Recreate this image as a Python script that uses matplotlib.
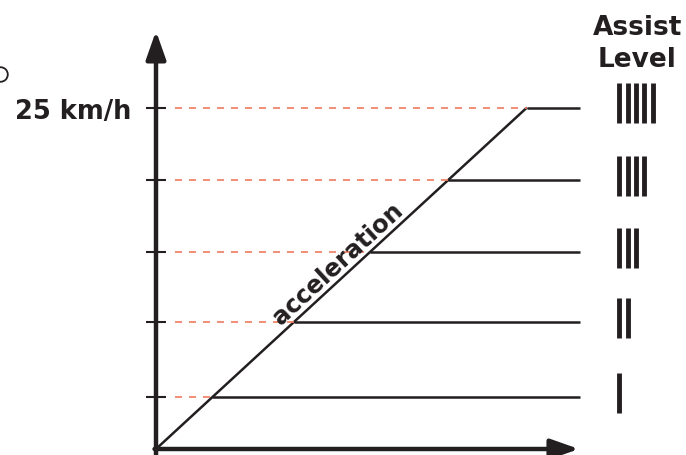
import numpy as np
import matplotlib
matplotlib.use("Agg")
import matplotlib.pyplot as plt

# ---- data ----
assist_levels = [1, 2, 3, 4, 5]
level_speeds = [3.8, 9.3, 14.4, 19.7, 25.0]   # km/h where each assist level tops out
tick_labels = ["", "", "", "", "25 km/h"]
accel_label = "acceleration"
legend_title = "Assist\nLevel"

INK = "#231f20"
RED = "#f07b5c"
FONT = ["DejaVu Sans"]

fig = plt.figure(figsize=(6.86, 4.56), dpi=100)
ax = fig.add_axes([0, 0, 1, 1])
ax.set_xlim(-10.512, 35.714)
ax.set_ylim(-0.439, 32.943)

for s in ["top", "right", "bottom", "left"]:
    ax.spines[s].set_visible(False)
ax.spines["left"].set_position(("data", 0))
ax.set_xticks([])
ax.set_yticks(level_speeds)
ax.set_yticklabels(tick_labels, fontsize=18.5, fontweight="bold", color=INK, family=FONT)
ax.tick_params(axis="y", direction="inout", length=15, width=1.5, color=INK, pad=10.5)
ax.patch.set_alpha(0)

t_end = 28.57
x_tip = 28.5
y_tip = 30.6

# axes arrows
arrow_kw = dict(arrowstyle="-|>,head_length=1.7,head_width=0.6", color=INK, lw=3.2,
                shrinkA=0, shrinkB=0, mutation_scale=10)
ax.annotate("", xy=(0, y_tip), xytext=(0, -0.6), arrowprops=arrow_kw)
ax.annotate("", xy=(x_tip, 0), xytext=(-0.1, 0), arrowprops=arrow_kw)

top = max(level_speeds)
# acceleration line
ax.plot([0, top], [0, top], color=INK, lw=1.8, solid_capstyle="butt")
# level lines + dashed guides
for v in level_speeds:
    ax.plot([v, t_end], [v, v], color=INK, lw=1.8, solid_capstyle="butt")
    ax.plot([1.28, v], [v, v], color=RED, lw=1.2, linestyle=(0, (4.2, 4.2)))

# assist level bars
bar_x0 = 31.23
bar_dx = 0.56
bar_half = 1.46
for n, v in zip(assist_levels, level_speeds):
    xs = bar_x0 + bar_dx * np.arange(n)
    ax.vlines(xs, v + 0.3 - bar_half, v + 0.3 + bar_half, color=INK, lw=3.5, capstyle="butt")

ax.text(32.45, 29.75, legend_title, ha="center", va="center", fontsize=19,
        fontweight="bold", color=INK, family=FONT, linespacing=1.3)

# acceleration text along diagonal
p0 = ax.transData.transform((0, 0))
p1 = ax.transData.transform((top, top))
ang = np.degrees(np.arctan2(p1[1] - p0[1], p1[0] - p0[0]))
ax.annotate(accel_label, xy=(12.9, 12.9), xytext=(-6.7, 7.2), textcoords="offset points",
            ha="center", va="center", rotation=ang, rotation_mode="anchor",
            fontsize=17.5, fontweight="bold", color=INK, family=FONT)

# small circle at left edge
ax.plot([-10.5], [27.45], marker="o", markersize=10.5, markerfacecolor="none",
        markeredgecolor=INK, markeredgewidth=1.3, clip_on=False)

fig.savefig("out.png", dpi=100)
